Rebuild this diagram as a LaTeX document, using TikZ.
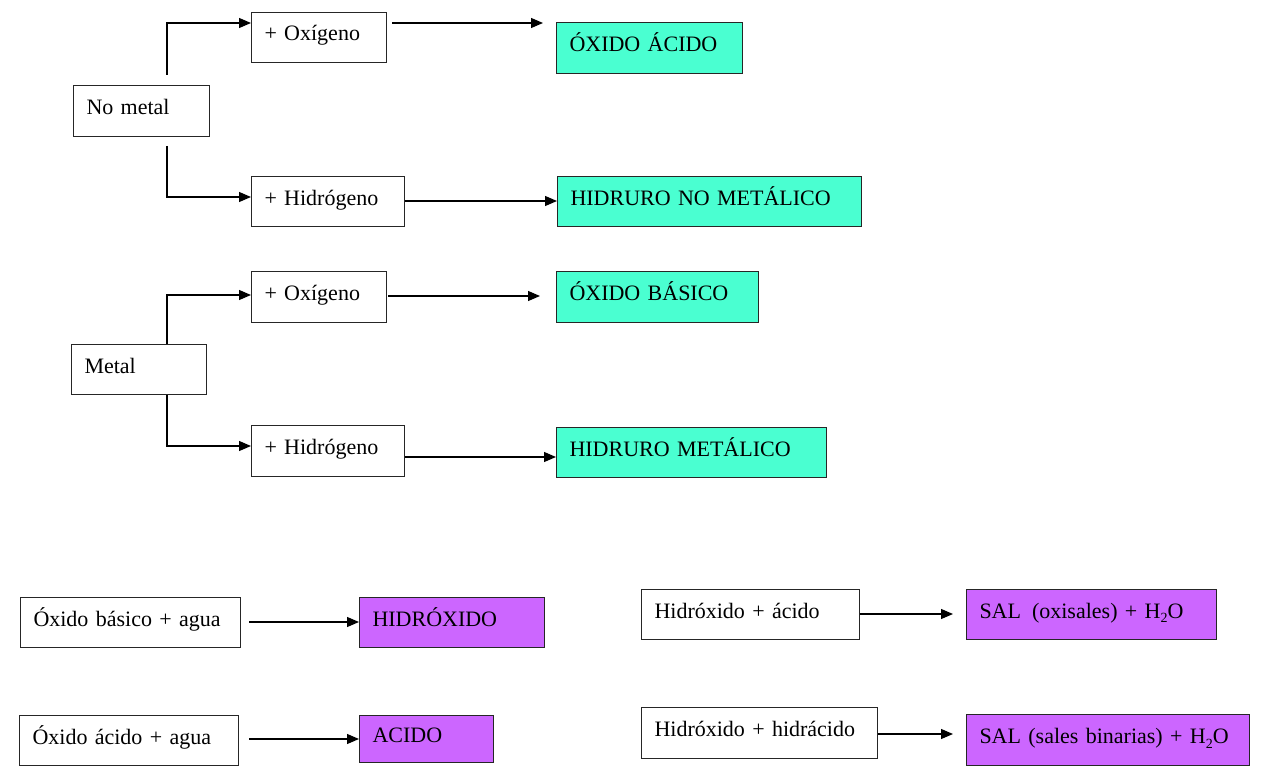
\documentclass[tikz,border=0pt]{standalone}
\usepackage{fontspec}
\setmainfont{Liberation Serif}
\usetikzlibrary{calc,arrows.meta}
\definecolor{tealbox}{RGB}{74,255,209}
\definecolor{purplebox}{RGB}{204,102,255}
\newcommand{\subtwo}{\raisebox{-0.22em}{\fontsize{14}{14}\selectfont 2}}
\begin{document}
\begin{tikzpicture}[x=1pt,y=-1pt,
  box/.style={draw=black!85, line width=1pt, rectangle, anchor=north west, align=left,
    inner xsep=13pt, inner ysep=0pt, text height=16pt, text depth=9pt,
    font=\fontsize{22}{26}\selectfont},
  tbox/.style={box, fill=tealbox},
  pbox/.style={box, fill=purplebox},
  arr/.style={line width=1.2pt, -{Triangle[length=12pt,width=10pt]}}]
\useasboundingbox (0,0) rectangle (1267,781);
% No metal section
\node[box, minimum width=136pt, minimum height=51pt, text width=110pt] (nm) at (73,85) {No metal};
\node[box, minimum width=135pt, minimum height=50pt, text width=109pt] (ox1) at (251,12) {+ Oxígeno};
\node[tbox, minimum width=186pt, minimum height=51pt, text width=160pt] (oa) at (556,22) {ÓXIDO ÁCIDO};
\node[box, minimum width=153pt, minimum height=50pt, text width=127pt] (hi1) at (251,176) {+ Hidrógeno};
\node[tbox, minimum width=304pt, minimum height=50pt, text width=278pt] (hnm) at (557,176) {HIDRURO NO METÁLICO};
% Metal section
\node[box, minimum width=135pt, minimum height=50pt, text width=109pt] (me) at (71,344) {Metal};
\node[box, minimum width=135pt, minimum height=51pt, text width=109pt] (ox2) at (251,271) {+ Oxígeno};
\node[tbox, minimum width=202pt, minimum height=51pt, text width=176pt] (ob) at (556,271) {ÓXIDO BÁSICO};
\node[box, minimum width=153pt, minimum height=51pt, text width=127pt] (hi2) at (251,425) {+ Hidrógeno};
\node[tbox, minimum width=270pt, minimum height=50pt, text width=244pt] (hm) at (556,427) {HIDRURO METÁLICO};
% Bottom section
\node[box, minimum width=220pt, minimum height=50pt, text width=194pt] (oba) at (20,597) {Óxido básico + agua};
\node[pbox, minimum width=185pt, minimum height=50pt, text width=159pt] (hx) at (359,597) {HIDRÓXIDO};
\node[box, minimum width=219pt, minimum height=50pt, text width=193pt] (oaa) at (19,715) {Óxido ácido + agua};
\node[pbox, minimum width=134pt, minimum height=47pt, text width=108pt] (ac) at (359,715) {ACIDO};
\node[box, minimum width=218pt, minimum height=50pt, text width=192pt] (ha) at (641,589) {Hidróxido + ácido};
\node[pbox, minimum width=250pt, minimum height=50pt, text width=224pt] (so) at (966,589) {SAL\, (oxisales) + H\subtwo O};
\node[box, minimum width=236pt, minimum height=51pt, text width=210pt] (hh) at (641,707) {Hidróxido + hidrácido};
\node[pbox, minimum width=283pt, minimum height=51pt, text width=257pt] (sb) at (966,714) {SAL (sales binarias) + H\subtwo O};
% Connectors
\draw[arr] ($(nm.north west)+(94,-10)$) |- ($(ox1.north west)+(0,11)$);
\draw[arr] ($(nm.south west)+(94,9)$) |- ($(hi1.north west)+(0,21)$);
\draw[arr] ($(ox1.north east)+(5,11)$) -- ($(oa.north west)+(-13,1)$);
\draw[arr] ($(hi1.north east)+(0,25)$) -- ($(hnm.north west)+(0,25)$);
\draw[arr] ($(me.north west)+(96,0)$) |- ($(ox2.north west)+(0,24)$);
\draw[arr] ($(me.south west)+(96,0)$) |- ($(hi2.north west)+(0,21)$);
\draw[arr] ($(ox2.north east)+(1,25)$) -- ($(ob.north west)+(-16,25)$);
\draw[arr] ($(hi2.north east)+(0,32)$) -- ($(hm.north west)+(0,30)$);
\draw[arr] ($(oba.north east)+(8,25)$) -- ($(hx.north west)+(0,25)$);
\draw[arr] ($(oaa.north east)+(10,24)$) -- ($(ac.north west)+(0,24)$);
\draw[arr] ($(ha.north east)+(0,25)$) -- ($(so.north west)+(-13,25)$);
\draw[arr] ($(hh.north east)+(0,27)$) -- ($(sb.north west)+(-13,20)$);
\end{tikzpicture}
\end{document}
